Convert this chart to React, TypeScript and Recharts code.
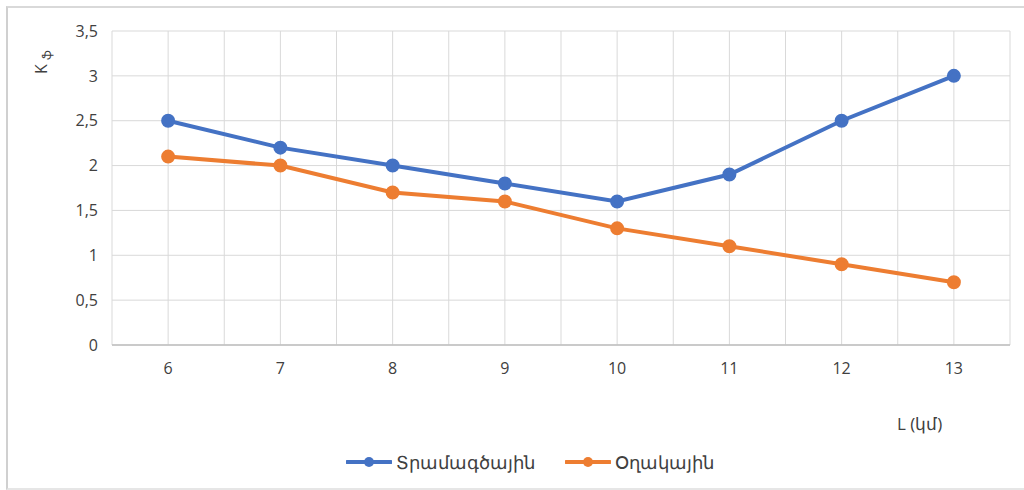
import {
	LineChart,
	Line,
	XAxis,
	YAxis,
	Legend,
	CartesianGrid,
} from "recharts";

const distances = [6, 7, 8, 9, 10, 11, 12, 13];
const linear = [2.5, 2.2, 2.0, 1.8, 1.6, 1.9, 2.5, 3.0];
const ring = [2.1, 2.0, 1.7, 1.6, 1.3, 1.1, 0.9, 0.7];
const yTicks = [0, 0.5, 1, 1.5, 2, 2.5, 3, 3.5];
const gridX = [5.5, 6, 6.5, 7, 7.5, 8, 8.5, 9, 9.5, 10, 10.5, 11, 11.5, 12, 12.5, 13, 13.5];

const data = distances.map((d, i) => ({ L: d, linear: linear[i], ring: ring[i] }));

const font = "'Open Sans', 'Noto Sans', sans-serif";
const fmt = (v: number) => String(v).replace(".", ",");

function LegendContent({ payload }: any) {
	return (
		<div style={{ display: "flex", justifyContent: "center", gap: 30, fontSize: 18, color: "#404040" }}>
			{(payload || []).map((p: any) => (
				<div key={p.value} style={{ display: "flex", alignItems: "center" }}>
					<svg width={46} height={14} style={{ marginRight: 4 }}>
						<line x1={1} y1={7} x2={45} y2={7} stroke={p.color} strokeWidth={4} strokeLinecap="round" />
						<circle cx={23} cy={7} r={5} fill={p.color} />
					</svg>
					<span>{p.value}</span>
				</div>
			))}
		</div>
	);
}

export default function App() {
	return (
		<div
			style={{
				position: "absolute",
				left: 0,
				top: 0,
				width: 1024,
				height: 490,
				background: "#fff",
				fontFamily: font,
				overflow: "hidden",
			}}
		>
			<div
				style={{
					position: "absolute",
					left: 6,
					top: 6,
					width: 1030,
					height: 480,
					borderLeft: "2px solid #d0d0d0",
					borderTop: "2px solid #d9d9d9",
					borderBottom: "2px solid #e6e6e6",
				}}
			/>
			<LineChart
				width={1024}
				height={490}
				data={data}
				margin={{ top: 31, right: 14, left: 52, bottom: 81 }}
			>
				<CartesianGrid stroke="#d9d9d9" strokeWidth={1} xAxisId="grid" />
				<XAxis
					xAxisId="grid"
					dataKey="L"
					type="number"
					domain={[5.5, 13.5]}
					ticks={gridX}
					hide
				/>
				<XAxis
					dataKey="L"
					type="number"
					domain={[5.5, 13.5]}
					ticks={distances}
					tickLine={false}
					axisLine={{ stroke: "#bfbfbf", strokeWidth: 1.5 }}
					tick={{ fill: "#404040", fontSize: 16, fontFamily: font }}
					tickMargin={12}
					height={40}
				/>
				<YAxis
					domain={[0, 3.5]}
					ticks={yTicks}
					tickFormatter={fmt}
					tickLine={false}
					axisLine={false}
					width={60}
					tick={{ fill: "#404040", fontSize: 16, fontFamily: font }}
					tickMargin={8}
				/>
				<Legend
					verticalAlign="bottom"
					align="center"
					content={<LegendContent />}
					wrapperStyle={{ bottom: 16, left: 0, width: 1060, fontFamily: font }}
				/>
				<Line
					type="linear"
					dataKey="linear"
					name="Տրամագծային"
					stroke="#4472C4"
					strokeWidth={4}
					dot={{ r: 5, fill: "#4472C4", stroke: "#4472C4" }}
					isAnimationActive={false}
				/>
				<Line
					type="linear"
					dataKey="ring"
					name="Օղակային"
					stroke="#ED7D31"
					strokeWidth={4}
					dot={{ r: 5, fill: "#ED7D31", stroke: "#ED7D31" }}
					isAnimationActive={false}
				/>
			</LineChart>
			<div
				style={{
					position: "absolute",
					left: 30,
					top: 74,
					transform: "rotate(-90deg)",
					transformOrigin: "left top",
					fontSize: 16,
					color: "#404040",
					whiteSpace: "nowrap",
				}}
			>
				K <span style={{ fontSize: 12, verticalAlign: "sub" }}>ֆ</span>
			</div>
			<div
				style={{
					position: "absolute",
					left: 897,
					top: 412,
					fontSize: 17,
					color: "#404040",
				}}
			>
				L (կմ)
			</div>
		</div>
	);
}
